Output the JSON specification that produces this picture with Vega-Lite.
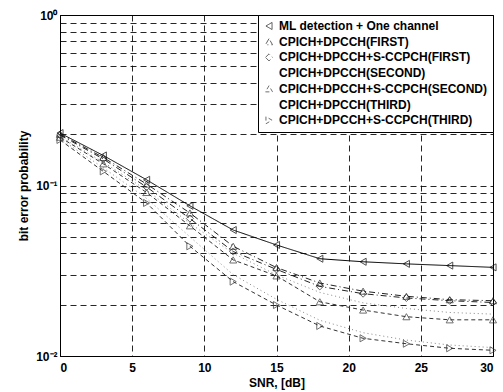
{
  "$schema": "https://vega.github.io/schema/vega-lite/v6.json",
  "autosize": "none",
  "width": 433,
  "height": 341,
  "padding": {"left": 60, "top": 15, "right": 10, "bottom": 36},
  "background": "white",
  "config": {
    "font": "Liberation Sans",
    "view": {"stroke": "black", "strokeWidth": 1},
    "axis": {
      "labelFont": "Liberation Sans", "labelFontSize": 12, "labelFontWeight": "bold", "labelColor": "black",
      "titleFont": "Liberation Sans", "titleFontSize": 12, "titleFontWeight": "bold", "titleColor": "black",
      "domainColor": "black", "tickColor": "black", "tickSize": 0,
      "grid": true, "gridColor": "black", "gridDash": [6, 4], "gridOpacity": 0.85, "gridWidth": 1
    },
    "legend": {
      "orient": "top-right", "offset": 0, "strokeColor": "black", "fillColor": "white",
      "padding": 5, "labelFont": "Liberation Sans", "labelFontSize": 12, "labelFontWeight": "bold",
      "labelColor": "black", "labelLimit": 400, "rowPadding": 3.7, "symbolSize": 50, "symbolStrokeWidth": 1
    }
  },
  "data": {"values": [
    {"s": "ML detection + One channel", "snr": 0, "ber": 0.203},
    {"s": "ML detection + One channel", "snr": 3, "ber": 0.150},
    {"s": "ML detection + One channel", "snr": 6, "ber": 0.108},
    {"s": "ML detection + One channel", "snr": 9, "ber": 0.076},
    {"s": "ML detection + One channel", "snr": 12, "ber": 0.0548},
    {"s": "ML detection + One channel", "snr": 15, "ber": 0.0448},
    {"s": "ML detection + One channel", "snr": 18, "ber": 0.0372},
    {"s": "ML detection + One channel", "snr": 21, "ber": 0.0357},
    {"s": "ML detection + One channel", "snr": 24, "ber": 0.0347},
    {"s": "ML detection + One channel", "snr": 27, "ber": 0.0339},
    {"s": "ML detection + One channel", "snr": 30, "ber": 0.0331},
    {"s": "CPICH+DPCCH(FIRST)", "snr": 0, "ber": 0.200},
    {"s": "CPICH+DPCCH(FIRST)", "snr": 3, "ber": 0.146},
    {"s": "CPICH+DPCCH(FIRST)", "snr": 6, "ber": 0.102},
    {"s": "CPICH+DPCCH(FIRST)", "snr": 9, "ber": 0.069},
    {"s": "CPICH+DPCCH(FIRST)", "snr": 12, "ber": 0.0440},
    {"s": "CPICH+DPCCH(FIRST)", "snr": 15, "ber": 0.0330},
    {"s": "CPICH+DPCCH(FIRST)", "snr": 18, "ber": 0.0268},
    {"s": "CPICH+DPCCH(FIRST)", "snr": 21, "ber": 0.0240},
    {"s": "CPICH+DPCCH(FIRST)", "snr": 24, "ber": 0.0224},
    {"s": "CPICH+DPCCH(FIRST)", "snr": 27, "ber": 0.0214},
    {"s": "CPICH+DPCCH(FIRST)", "snr": 30, "ber": 0.0211},
    {"s": "CPICH+DPCCH+S-CCPCH(FIRST)", "snr": 0, "ber": 0.198},
    {"s": "CPICH+DPCCH+S-CCPCH(FIRST)", "snr": 3, "ber": 0.143},
    {"s": "CPICH+DPCCH+S-CCPCH(FIRST)", "snr": 6, "ber": 0.098},
    {"s": "CPICH+DPCCH+S-CCPCH(FIRST)", "snr": 9, "ber": 0.064},
    {"s": "CPICH+DPCCH+S-CCPCH(FIRST)", "snr": 12, "ber": 0.0410},
    {"s": "CPICH+DPCCH+S-CCPCH(FIRST)", "snr": 15, "ber": 0.0322},
    {"s": "CPICH+DPCCH+S-CCPCH(FIRST)", "snr": 18, "ber": 0.0256},
    {"s": "CPICH+DPCCH+S-CCPCH(FIRST)", "snr": 21, "ber": 0.0232},
    {"s": "CPICH+DPCCH+S-CCPCH(FIRST)", "snr": 24, "ber": 0.0219},
    {"s": "CPICH+DPCCH+S-CCPCH(FIRST)", "snr": 27, "ber": 0.0211},
    {"s": "CPICH+DPCCH+S-CCPCH(FIRST)", "snr": 30, "ber": 0.0206},
    {"s": "CPICH+DPCCH(SECOND)", "snr": 0, "ber": 0.194},
    {"s": "CPICH+DPCCH(SECOND)", "snr": 3, "ber": 0.137},
    {"s": "CPICH+DPCCH(SECOND)", "snr": 6, "ber": 0.094},
    {"s": "CPICH+DPCCH(SECOND)", "snr": 9, "ber": 0.060},
    {"s": "CPICH+DPCCH(SECOND)", "snr": 12, "ber": 0.0400},
    {"s": "CPICH+DPCCH(SECOND)", "snr": 15, "ber": 0.0299},
    {"s": "CPICH+DPCCH(SECOND)", "snr": 18, "ber": 0.0236},
    {"s": "CPICH+DPCCH(SECOND)", "snr": 21, "ber": 0.0205},
    {"s": "CPICH+DPCCH(SECOND)", "snr": 24, "ber": 0.0190},
    {"s": "CPICH+DPCCH(SECOND)", "snr": 27, "ber": 0.0180},
    {"s": "CPICH+DPCCH(SECOND)", "snr": 30, "ber": 0.0176},
    {"s": "CPICH+DPCCH+S-CCPCH(SECOND)", "snr": 0, "ber": 0.192},
    {"s": "CPICH+DPCCH+S-CCPCH(SECOND)", "snr": 3, "ber": 0.134},
    {"s": "CPICH+DPCCH+S-CCPCH(SECOND)", "snr": 6, "ber": 0.091},
    {"s": "CPICH+DPCCH+S-CCPCH(SECOND)", "snr": 9, "ber": 0.058},
    {"s": "CPICH+DPCCH+S-CCPCH(SECOND)", "snr": 12, "ber": 0.0366},
    {"s": "CPICH+DPCCH+S-CCPCH(SECOND)", "snr": 15, "ber": 0.0295},
    {"s": "CPICH+DPCCH+S-CCPCH(SECOND)", "snr": 18, "ber": 0.0208},
    {"s": "CPICH+DPCCH+S-CCPCH(SECOND)", "snr": 21, "ber": 0.0186},
    {"s": "CPICH+DPCCH+S-CCPCH(SECOND)", "snr": 24, "ber": 0.0170},
    {"s": "CPICH+DPCCH+S-CCPCH(SECOND)", "snr": 27, "ber": 0.0163},
    {"s": "CPICH+DPCCH+S-CCPCH(SECOND)", "snr": 30, "ber": 0.0163},
    {"s": "CPICH+DPCCH(THIRD)", "snr": 0, "ber": 0.188},
    {"s": "CPICH+DPCCH(THIRD)", "snr": 3, "ber": 0.127},
    {"s": "CPICH+DPCCH(THIRD)", "snr": 6, "ber": 0.084},
    {"s": "CPICH+DPCCH(THIRD)", "snr": 9, "ber": 0.050},
    {"s": "CPICH+DPCCH(THIRD)", "snr": 12, "ber": 0.0300},
    {"s": "CPICH+DPCCH(THIRD)", "snr": 15, "ber": 0.0215},
    {"s": "CPICH+DPCCH(THIRD)", "snr": 18, "ber": 0.0162},
    {"s": "CPICH+DPCCH(THIRD)", "snr": 21, "ber": 0.0137},
    {"s": "CPICH+DPCCH(THIRD)", "snr": 24, "ber": 0.0124},
    {"s": "CPICH+DPCCH(THIRD)", "snr": 27, "ber": 0.0116},
    {"s": "CPICH+DPCCH(THIRD)", "snr": 30, "ber": 0.0112},
    {"s": "CPICH+DPCCH+S-CCPCH(THIRD)", "snr": 0, "ber": 0.185},
    {"s": "CPICH+DPCCH+S-CCPCH(THIRD)", "snr": 3, "ber": 0.121},
    {"s": "CPICH+DPCCH+S-CCPCH(THIRD)", "snr": 6, "ber": 0.079},
    {"s": "CPICH+DPCCH+S-CCPCH(THIRD)", "snr": 9, "ber": 0.0440},
    {"s": "CPICH+DPCCH+S-CCPCH(THIRD)", "snr": 12, "ber": 0.0273},
    {"s": "CPICH+DPCCH+S-CCPCH(THIRD)", "snr": 15, "ber": 0.0199},
    {"s": "CPICH+DPCCH+S-CCPCH(THIRD)", "snr": 18, "ber": 0.0150},
    {"s": "CPICH+DPCCH+S-CCPCH(THIRD)", "snr": 21, "ber": 0.0127},
    {"s": "CPICH+DPCCH+S-CCPCH(THIRD)", "snr": 24, "ber": 0.0118},
    {"s": "CPICH+DPCCH+S-CCPCH(THIRD)", "snr": 27, "ber": 0.0111},
    {"s": "CPICH+DPCCH+S-CCPCH(THIRD)", "snr": 30, "ber": 0.0108}
  ]},
  "encoding": {
    "x": {"field": "snr", "type": "quantitative", "title": "SNR, [dB]",
      "scale": {"domain": [0, 30], "nice": false},
      "axis": {"values": [0, 5, 10, 15, 20, 25, 30], "labelPadding": 6, "titlePadding": 4}},
    "y": {"field": "ber", "type": "quantitative", "title": "bit error probability",
      "scale": {"type": "log", "domain": [0.01, 1], "nice": false},
      "axis": {"values": [0.01, 0.02, 0.03, 0.04, 0.05, 0.06, 0.07, 0.08, 0.09, 0.1, 0.2, 0.3, 0.4, 0.5, 0.6, 0.7, 0.8, 0.9, 1],
        "labelExpr": "datum.value == 1 ? '10⁰' : (abs(datum.value - 0.1) < 1e-9 ? '10⁻¹' : (abs(datum.value - 0.01) < 1e-9 ? '10⁻²' : ''))",
        "labelPadding": 3, "titlePadding": 5}}
  },
  "layer": [
    {
      "mark": {"type": "line", "strokeWidth": 1},
      "encoding": {
        "strokeDash": {"field": "s", "type": "nominal", "legend": {"title": null},
          "scale": {"domain": ["ML detection + One channel", "CPICH+DPCCH(FIRST)", "CPICH+DPCCH+S-CCPCH(FIRST)", "CPICH+DPCCH(SECOND)", "CPICH+DPCCH+S-CCPCH(SECOND)", "CPICH+DPCCH(THIRD)", "CPICH+DPCCH+S-CCPCH(THIRD)"],
            "range": [[1, 0], [6, 3, 1, 3], [6, 3, 1, 3], [1, 3], [4, 3], [1, 3], [4, 3]]}},
        "color": {"field": "s", "type": "nominal", "legend": {"title": null},
          "scale": {"domain": ["ML detection + One channel", "CPICH+DPCCH(FIRST)", "CPICH+DPCCH+S-CCPCH(FIRST)", "CPICH+DPCCH(SECOND)", "CPICH+DPCCH+S-CCPCH(SECOND)", "CPICH+DPCCH(THIRD)", "CPICH+DPCCH+S-CCPCH(THIRD)"],
            "range": ["#000000", "#222222", "#222222", "#888888", "#333333", "#888888", "#333333"]}}
      }
    },
    {
      "mark": {"type": "point", "filled": false, "size": 50, "strokeWidth": 1},
      "encoding": {
        "shape": {"field": "s", "type": "nominal", "legend": {"title": null},
          "scale": {"domain": ["ML detection + One channel", "CPICH+DPCCH(FIRST)", "CPICH+DPCCH+S-CCPCH(FIRST)", "CPICH+DPCCH(SECOND)", "CPICH+DPCCH+S-CCPCH(SECOND)", "CPICH+DPCCH(THIRD)", "CPICH+DPCCH+S-CCPCH(THIRD)"],
            "range": ["triangle-left", "triangle-up", "diamond", "M0,0", "triangle-up", "M0,0", "triangle-right"]}},
        "color": {"field": "s", "type": "nominal", "legend": {"title": null}}
      }
    }
  ]
}
